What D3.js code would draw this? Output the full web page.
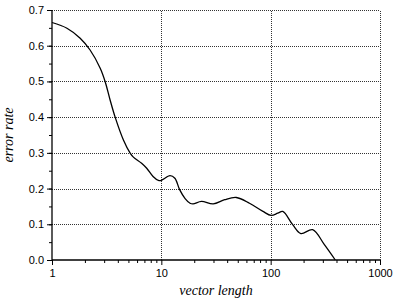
<!DOCTYPE html>
<html lang="en">
  <head>
    <meta charset="UTF-8" />
    <title>error rate vs vector length</title>
    <script src="https://d3js.org/d3.v7.min.js"></script>
    <style>
      body {
        margin: 0;
        padding: 0;
        background: #fff;
      }
      .tick text {
        font-family: "Liberation Sans", Arial, sans-serif;
        font-size: 11px;
        fill: #000;
      }
      .title {
        font-family: "Liberation Serif", "Times New Roman", serif;
        font-style: italic;
        font-size: 14px;
        fill: #000;
      }
    </style>
  </head>
  <body>
    <svg id="chart" width="394" height="300"></svg>

    <script>
      // curve: vector length / error rate
      var vectorLength = [1, 1.37, 1.81, 2.23, 2.76, 3.06, 3.4, 3.78, 4.5, 5.17, 5.55, 6.6, 7.35, 8.4, 9.4, 10, 12, 13.3, 14.7, 16.5, 18.3, 19.5, 23.3, 29.8, 38, 48.5, 64, 85, 101, 116, 129, 159, 189, 242, 310, 390];
      var errorRate = [0.665, 0.649, 0.621, 0.588, 0.537, 0.5, 0.448, 0.4, 0.336, 0.3, 0.288, 0.271, 0.257, 0.234, 0.223, 0.223, 0.236, 0.229, 0.197, 0.172, 0.159, 0.157, 0.164, 0.157, 0.169, 0.175, 0.159, 0.136, 0.125, 0.131, 0.136, 0.099, 0.074, 0.085, 0.043, 0.0];

      var xTicks = [1, 10, 100, 1000];
      var yTicks = [0, 0.1, 0.2, 0.3, 0.4, 0.5, 0.6, 0.7];

      var margin = { left: 52, right: 14, top: 10, bottom: 40 };
      var width = 394, height = 300;

      var svg = d3.select("#chart");

      var x = d3.scaleLog().domain([1, 1000]).range([margin.left, width - margin.right]);
      var y = d3.scaleLinear().domain([0, 0.7]).range([height - margin.bottom, margin.top]);

      // dotted grid (also forms the top and right frame)
      var grid = svg.append("g").attr("stroke", "#333").attr("stroke-width", 1).attr("stroke-dasharray", "1,1");
      grid.selectAll(".hg")
        .data(yTicks.filter(function (d) { return d > 0; }))
        .enter()
        .append("line")
        .attr("x1", x(1))
        .attr("x2", x(1000))
        .attr("y1", function (d) { return Math.round(y(d)) + 0.5; })
        .attr("y2", function (d) { return Math.round(y(d)) + 0.5; });
      grid.selectAll(".vg")
        .data(xTicks.filter(function (d) { return d > 1; }))
        .enter()
        .append("line")
        .attr("y1", y(0))
        .attr("y2", y(0.7))
        .attr("x1", function (d) { return Math.round(x(d)) + 0.5; })
        .attr("x2", function (d) { return Math.round(x(d)) + 0.5; });

      // y axis with minor ticks
      var yMinor = d3.range(0, 0.701, 0.05);
      svg.append("g")
        .attr("transform", "translate(" + x(1) + ",0)")
        .call(d3.axisLeft(y).tickValues(yMinor).tickSize(3).tickFormat(""))
        .call(function (g) { g.select(".domain").remove(); });
      var yAxis = svg.append("g")
        .attr("transform", "translate(" + x(1) + ",0)")
        .call(d3.axisLeft(y).tickValues(yTicks).tickSize(5).tickPadding(3).tickFormat(d3.format(".1f")));
      yAxis.select(".domain").attr("d", "M0," + y(0) + "V" + y(0.7)).attr("stroke-width", 1.3);

      // x axis with minor ticks
      var xMinor = [];
      [1, 10, 100].forEach(function (dec) {
        for (var k = 2; k <= 9; k++) xMinor.push(dec * k);
      });
      svg.append("g")
        .attr("transform", "translate(0," + y(0) + ")")
        .call(d3.axisBottom(x).tickValues(xMinor).tickSize(3).tickFormat(""))
        .call(function (g) { g.select(".domain").remove(); });
      var xAxis = svg.append("g")
        .attr("transform", "translate(0," + y(0) + ")")
        .call(d3.axisBottom(x).tickValues(xTicks).tickSize(5).tickPadding(4).tickFormat(d3.format("d")));
      xAxis.select(".domain").attr("d", "M" + x(1) + ",0H" + x(1000)).attr("stroke-width", 1.3);

      // curve
      var points = vectorLength.map(function (v, i) { return [v, errorRate[i]]; });
      var line = d3.line()
        .x(function (d) { return x(d[0]); })
        .y(function (d) { return y(d[1]); })
        .curve(d3.curveCatmullRom.alpha(0.5));
      svg.append("path")
        .datum(points)
        .attr("d", line)
        .attr("fill", "none")
        .attr("stroke", "#000")
        .attr("stroke-width", 1.3);

      // axis titles
      svg.append("text")
        .attr("class", "title")
        .attr("x", (x(1) + x(1000)) / 2)
        .attr("y", 295)
        .attr("text-anchor", "middle")
        .text("vector length");
      svg.append("text")
        .attr("class", "title")
        .attr("transform", "translate(13," + (y(0) + y(0.7)) / 2 + ") rotate(-90)")
        .attr("text-anchor", "middle")
        .text("error rate");
    </script>
  </body>
</html>
